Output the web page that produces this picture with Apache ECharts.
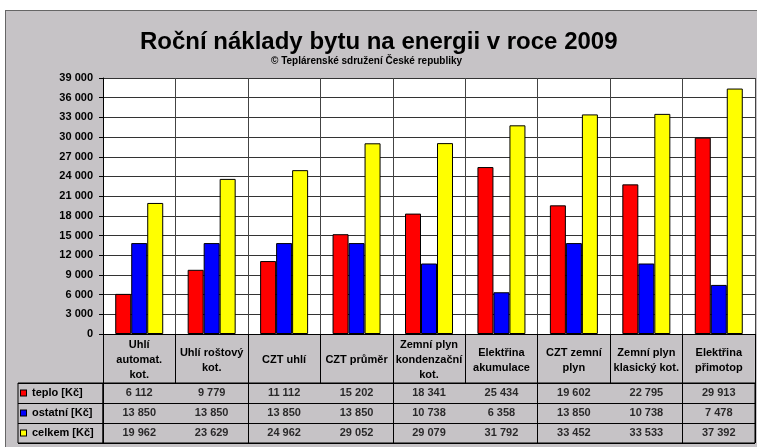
<!DOCTYPE html>
<html>
<head>
<meta charset="utf-8">
<script src="https://cdn.jsdelivr.net/npm/echarts@6/dist/echarts.min.js"></script>
<style>
  html, body { margin: 0; padding: 0; background: #fff; overflow: hidden; }
  #frame {
    position: absolute; left: 5px; top: 10px; width: 800px; height: 500px;
    background: #c6c3c6; border: 1px solid #666;
  }
  #chart { position: absolute; left: 0; top: 0; width: 757px; height: 447px; }
</style>
</head>
<body>
<div id="frame"></div>
<div id="chart"></div>
<script>
// data
const categories = [
  'Uhlí\nautomat.\nkot.', 'Uhlí roštový\nkot.', 'CZT uhlí', 'CZT průměr',
  'Zemní plyn\nkondenzační\nkot.', 'Elektřina\nakumulace', 'CZT zemní\nplyn',
  'Zemní plyn\nklasický kot.', 'Elektřina\npřimotop'
];
const teplo = [6112, 9779, 11112, 15202, 18341, 25434, 19602, 22795, 29913];
const ostatni = [13850, 13850, 13850, 13850, 10738, 6358, 13850, 10738, 7478];
const celkem = [19962, 23629, 24962, 29052, 29079, 31792, 33452, 33533, 37392];
const rowNames = ['teplo [Kč]', 'ostatní [Kč]', 'celkem [Kč]'];
const rowColors = ['#ff0000', '#0000ff', '#ffff00'];
const yMax = 39000;
const yStep = 3000;

const font = 'Liberation Sans, Arial, sans-serif';
const fmt = v => String(v).replace(/\B(?=(\d{3})+(?!\d))/g, ' ');

// cells of the data table
const rows = [teplo, ostatni, celkem];
const cells = [];
rows.forEach((vals, r) => vals.forEach((v, i) => cells.push([i, r, v])));

const rich = { t: { fontFamily: font, fontSize: 11, fontWeight: 'bold', color: '#000', padding: [0, 0, 0, 6] } };
rowColors.forEach((c, i) => {
  rich['sq' + i] = { width: 5, height: 5, backgroundColor: c, borderColor: '#000', borderWidth: 1 };
});

const chart = echarts.init(document.getElementById('chart'));
chart.setOption({
  animation: false,
  backgroundColor: 'transparent',
  title: [
    { text: 'Roční náklady bytu na energii v roce 2009', left: 135, top: 25,
      textStyle: { fontFamily: font, fontSize: 24, fontWeight: 'bold', color: '#000' } },
    { text: '© Teplárenské sdružení České republiky', left: 266, top: 51,
      textStyle: { fontFamily: font, fontSize: 10, fontWeight: 'bold', color: '#000' } }
  ],
  grid: [
    { left: 103, top: 78, width: 652, height: 256, show: true, backgroundColor: '#fff', borderWidth: 0, outerBoundsMode: 'none' },
    { left: 103, top: 383, width: 652, height: 60, show: true, borderColor: '#000', borderWidth: 1, outerBoundsMode: 'none' },
    { left: 18, top: 383, width: 85, height: 60, show: true, borderColor: '#000', borderWidth: 1, outerBoundsMode: 'none' }
  ],
  xAxis: [
    { type: 'category', gridIndex: 0, data: categories,
      axisLine: { lineStyle: { color: '#000', width: 1 } },
      axisTick: { show: true, length: 49, alignWithLabel: false, lineStyle: { color: '#000' } },
      axisLabel: { interval: 0, margin: 26, verticalAlign: 'middle', lineHeight: 15,
        fontFamily: font, fontSize: 11, fontWeight: 'bold', color: '#000' },
      splitLine: { show: true, lineStyle: { color: '#444', width: 1 } } },
    { type: 'category', gridIndex: 1, data: categories,
      axisLine: { show: false }, axisTick: { show: false }, axisLabel: { show: false },
      splitLine: { show: true, lineStyle: { color: '#000', width: 1 } } },
    { type: 'value', gridIndex: 2, show: false }
  ],
  yAxis: [
    { type: 'value', gridIndex: 0, min: 0, max: yMax, interval: yStep,
      axisLine: { show: true, lineStyle: { color: '#000' } },
      axisTick: { show: true, length: 4, lineStyle: { color: '#000' } },
      axisLabel: { margin: 10, formatter: v => fmt(v),
        fontFamily: font, fontSize: 11, fontWeight: 'bold', color: '#000' },
      splitLine: { show: true, lineStyle: { color: '#333', width: 1 } } },
    { type: 'category', gridIndex: 1, data: rowNames, inverse: true,
      axisLine: { show: false }, axisTick: { show: false }, axisLabel: { show: false },
      splitLine: { show: true, lineStyle: { color: '#000', width: 1 } } },
    { type: 'category', gridIndex: 2, data: rowNames, inverse: true,
      axisLine: { show: false }, axisTick: { show: false },
      axisLabel: { inside: true, margin: 3, align: 'left', rich: rich,
        formatter: (v, i) => '{sq' + i + '|}{t|' + v + '}' },
      splitLine: { show: true, lineStyle: { color: '#000', width: 1 } } }
  ],
  series: [
    { name: rowNames[0], type: 'bar', data: teplo, barWidth: 16, barGap: '0%',
      itemStyle: { color: rowColors[0], borderColor: '#000', borderWidth: 1 } },
    { name: rowNames[1], type: 'bar', data: ostatni, barWidth: 16, barGap: '0%',
      itemStyle: { color: rowColors[1], borderColor: '#000', borderWidth: 1 } },
    { name: rowNames[2], type: 'bar', data: celkem, barWidth: 16, barGap: '0%',
      itemStyle: { color: rowColors[2], borderColor: '#000', borderWidth: 1 } },
    { type: 'scatter', xAxisIndex: 1, yAxisIndex: 1, data: cells, symbolSize: 1,
      itemStyle: { color: 'transparent' },
      label: { show: true, position: 'inside', formatter: p => fmt(p.value[2]),
        fontFamily: font, fontSize: 11, fontWeight: 'bold', color: '#000', textBorderWidth: 0 } }
  ]
});
</script>
</body>
</html>
